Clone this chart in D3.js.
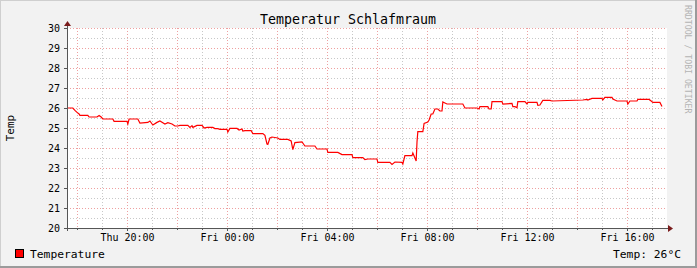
<!DOCTYPE html>
<html>
<head>
<meta charset="utf-8">
<script src="https://cdn.jsdelivr.net/npm/d3@7"></script>
<style>
  body { margin: 0; background: #f2f2f2; }
  svg text { font-family: "DejaVu Sans Mono", monospace; }
</style>
</head>
<body>
<svg width="697" height="268"></svg>
<script>
// window shown: Thu 17:36 -> Fri 17:36
var startTime = new Date(2013, 5, 20, 17, 36),
    endTime = new Date(2013, 5, 21, 17, 36);

// minutes after startTime
var minutes = [0, 14, 19, 24, 29, 31, 50, 53, 72, 77, 82, 86, 110, 113, 144, 146, 149, 170, 175, 194,
    199, 206, 216, 223, 235, 242, 252, 259, 266, 271, 290, 295, 300, 302, 312, 324, 329, 336, 350, 355,
    362, 367, 384, 386, 391, 408, 413, 420, 422, 427, 442, 446, 470, 475, 480, 482, 487, 492, 506, 511,
    530, 538, 542, 547, 564, 571, 595, 600, 624, 626, 650, 660, 684, 686, 710, 715, 722, 744, 746, 775,
    780, 787, 804, 806, 811, 828, 830, 838, 840, 842, 854, 857, 866, 869, 874, 878, 883, 890, 895, 900,
    902, 907, 912, 950, 955, 984, 989, 991, 1010, 1013, 1018, 1020, 1044, 1046, 1068, 1070, 1075, 1080, 1082, 1099,
    1104, 1106, 1128, 1130, 1135, 1142, 1159, 1164, 1238, 1248, 1250, 1260, 1284, 1286, 1291, 1308, 1310, 1320, 1344, 1346,
    1351, 1368, 1370, 1397, 1402, 1406, 1423, 1428];

var temperature = [26.0, 26.0, 25.88, 25.78, 25.7, 25.63, 25.63, 25.55, 25.55, 25.63, 25.55, 25.45, 25.45, 25.33, 25.33, 25.2, 25.45, 25.45, 25.25, 25.28,
    25.35, 25.15, 25.28, 25.35, 25.2, 25.27, 25.2, 25.1, 25.1, 25.13, 25.13, 25.03, 25.12, 25.03, 25.13, 25.13, 25.0, 25.03, 25.03, 24.97,
    24.97, 24.93, 24.93, 24.8, 24.98, 24.98, 24.9, 24.95, 24.85, 24.87, 24.87, 24.72, 24.72, 24.63, 24.2, 24.18, 24.5, 24.55, 24.5, 24.43,
    24.43, 24.35, 23.92, 24.27, 24.3, 24.1, 24.1, 23.95, 23.95, 23.78, 23.78, 23.67, 23.67, 23.52, 23.52, 23.42, 23.45, 23.45, 23.28, 23.28,
    23.18, 23.3, 23.28, 23.2, 23.62, 23.62, 23.75, 23.35, 24.3, 24.82, 24.82, 25.23, 25.3, 25.4, 25.7, 25.7, 25.95, 25.95, 25.85, 25.85,
    26.3, 26.25, 26.2, 26.2, 26.0, 26.0, 25.95, 26.07, 26.07, 25.95, 25.95, 26.32, 26.32, 26.2, 26.23, 26.07, 26.07, 26.02, 26.32, 26.32,
    26.2, 26.28, 26.28, 26.13, 26.15, 26.38, 26.38, 26.35, 26.4, 26.43, 26.4, 26.48, 26.48, 26.4, 26.53, 26.53, 26.45, 26.35, 26.35, 26.2,
    26.35, 26.35, 26.43, 26.43, 26.35, 26.28, 26.28, 26.07];

var yTicks = [20, 21, 22, 23, 24, 25, 26, 27, 28, 29, 30];

var svg = d3.select("svg"),
    W = 697, H = 268,
    margin = { top: 28, right: 30, bottom: 40, left: 67 },
    width = W - margin.left - margin.right,
    height = H - margin.top - margin.bottom;

var data = minutes.map(function (m, i) {
    return { t: d3.timeMinute.offset(startTime, m), v: temperature[i] };
});

var x = d3.scaleTime().domain([startTime, endTime]).range([0, width]),
    y = d3.scaleLinear().domain([20, 30]).range([height, 0]);

// background + 3d frame
svg.append("rect").attr("width", W).attr("height", H).attr("fill", "#f2f2f2");
svg.append("path").attr("d", "M0,267V0H697").attr("fill", "none").attr("stroke", "#cfcfcf").attr("stroke-width", 2);
svg.append("path").attr("d", "M0,267H696V0").attr("fill", "none").attr("stroke", "#9b9b9b").attr("stroke-width", 2);

var g = svg.append("g")
    .attr("transform", "translate(" + margin.left + "," + margin.top + ")");

g.append("rect").attr("width", width).attr("height", height).attr("fill", "#fff");

function crisp(v) { return Math.round(v) + 0.5; }

// minor grid
var hours = x.ticks(d3.timeHour.every(1));
g.selectAll(".vminor").data(hours.filter(function (d) { return d.getHours() % 2; }))
    .enter().append("line")
    .attr("x1", function (d) { return crisp(x(d)); }).attr("x2", function (d) { return crisp(x(d)); })
    .attr("y1", 0).attr("y2", height)
    .attr("stroke", "#c8c8c8").attr("stroke-dasharray", "1,2");
g.selectAll(".hminor").data(d3.range(20.5, 30, 1))
    .enter().append("line")
    .attr("y1", function (d) { return crisp(y(d)); }).attr("y2", function (d) { return crisp(y(d)); })
    .attr("x1", 0).attr("x2", width)
    .attr("stroke", "#c8c8c8").attr("stroke-dasharray", "1,2");

// major grid
g.selectAll(".vmajor").data(x.ticks(d3.timeHour.every(2)))
    .enter().append("line")
    .attr("x1", function (d) { return crisp(x(d)); }).attr("x2", function (d) { return crisp(x(d)); })
    .attr("y1", 0).attr("y2", height)
    .attr("stroke", "#eea0a0").attr("stroke-dasharray", "1,2");
g.selectAll(".hmajor").data(yTicks)
    .enter().append("line")
    .attr("y1", function (d) { return crisp(y(d)); }).attr("y2", function (d) { return crisp(y(d)); })
    .attr("x1", 0).attr("x2", width)
    .attr("stroke", "#eea0a0").attr("stroke-dasharray", "1,2");

// data line
var line = d3.line()
    .x(function (d) { return x(d.t); })
    .y(function (d) { return y(d.v); });

g.append("path").datum(data)
    .attr("d", line)
    .attr("fill", "none")
    .attr("stroke", "#ff0000")
    .attr("stroke-width", 1.2);

// axes
var axisColor = "#555";

var xAxis = g.append("g")
    .attr("transform", "translate(0," + height + ")")
    .call(d3.axisBottom(x).ticks(d3.timeHour.every(4)).tickFormat(d3.timeFormat("%a %H:%M")).tickSize(3).tickPadding(3));
xAxis.select(".domain").remove();
xAxis.selectAll("line").attr("stroke", axisColor);
xAxis.selectAll("text").attr("font-family", "DejaVu Sans Mono").attr("font-size", 10).attr("fill", "#000");

g.selectAll(".xtick").data(hours)
    .enter().append("line")
    .attr("x1", function (d) { return crisp(x(d)); }).attr("x2", function (d) { return crisp(x(d)); })
    .attr("y1", height).attr("y2", height + 2)
    .attr("stroke", axisColor);

var yAxis = g.append("g")
    .call(d3.axisLeft(y).tickValues(yTicks).tickSize(3).tickPadding(4));
yAxis.select(".domain").remove();
yAxis.selectAll("line").attr("stroke", axisColor);
yAxis.selectAll("text").attr("font-family", "DejaVu Sans Mono").attr("font-size", 10).attr("fill", "#000");

g.append("line").attr("x1", -3).attr("x2", width + 2).attr("y1", crisp(height)).attr("y2", crisp(height))
    .attr("stroke", axisColor);
g.append("line").attr("x1", 0.5).attr("x2", 0.5).attr("y1", height + 3).attr("y2", -3)
    .attr("stroke", axisColor);

// arrows
g.append("path").attr("d", "M" + (width + 1) + "," + (height - 3) + "L" + (width + 6) + "," + (height + 0.5) + "L" + (width + 1) + "," + (height + 4) + "Z")
    .attr("fill", "#7a1c1c");
g.append("path").attr("d", "M-3,-2L0.5,-7L4,-2Z").attr("fill", "#7a1c1c");

// texts
svg.append("text").attr("x", 348).attr("y", 24).attr("text-anchor", "middle")
    .attr("font-size", 13.3).text("Temperatur Schlafmraum");

svg.append("text").attr("transform", "translate(14,128) rotate(-90)").attr("text-anchor", "middle")
    .attr("font-size", 11).text("Temp");

svg.append("text").attr("transform", "translate(685,5) rotate(90)")
    .attr("font-size", 8.2).attr("fill", "#b4b4b4").text("RRDTOOL / TOBI OETIKER");

// legend
svg.append("rect").attr("x", 15.5).attr("y", 249.5).attr("width", 8).attr("height", 8)
    .attr("fill", "#ff0000").attr("stroke", "#000");
svg.append("text").attr("x", 30).attr("y", 258).attr("font-size", 11.3).text("Temperature");
svg.append("text").attr("x", 681).attr("y", 258).attr("text-anchor", "end").attr("font-size", 11.3)
    .text("Temp: " + Math.round(temperature[temperature.length - 1]) + "°C");
</script>
</body>
</html>
